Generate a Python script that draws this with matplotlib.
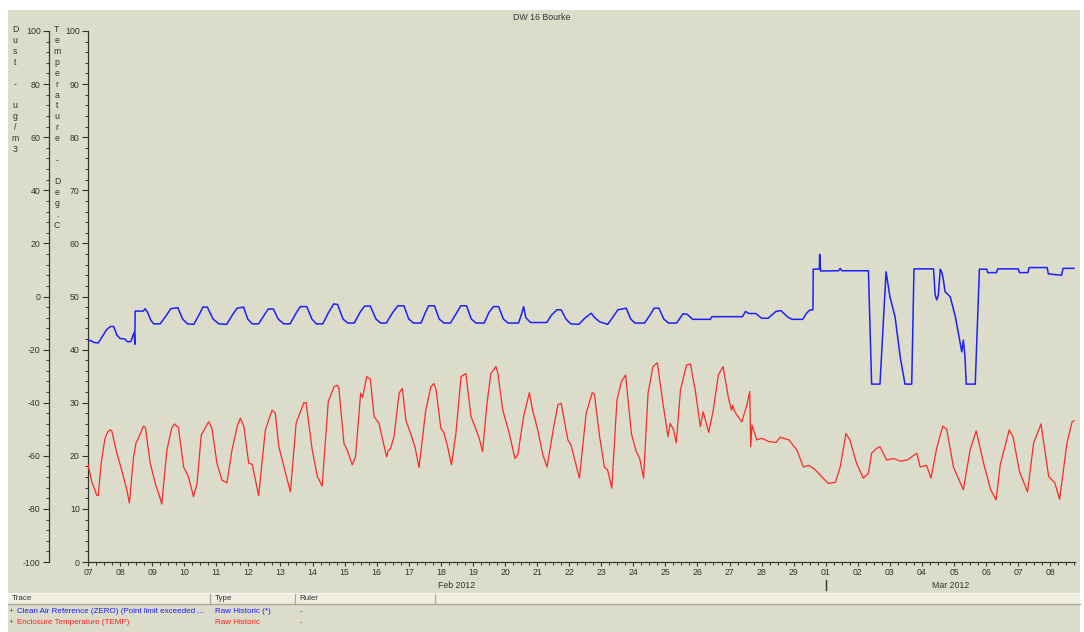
import matplotlib
matplotlib.use("Agg")
import matplotlib.pyplot as plt
import matplotlib.dates as mdates
import matplotlib.transforms as mtransforms
from matplotlib.patches import Rectangle
from matplotlib.lines import Line2D
from matplotlib.ticker import MultipleLocator
from datetime import datetime, timedelta

plt.rcParams["font.family"] = ["Liberation Sans", "DejaVu Sans"]
plt.rcParams["axes.unicode_minus"] = False

# ---------------- data ----------------
start = datetime(2012, 2, 7)

# Enclosure Temperature (TEMP), deg C, time in days since start
temp_days = [
    0.00, 0.12, 0.22, 0.27, 0.32, 0.41, 0.53, 0.62, 0.69, 0.74, 0.90, 1.05, 1.21, 1.29,
    1.42, 1.50, 1.57, 1.73, 1.79, 1.94, 2.11, 2.20, 2.30, 2.46, 2.61, 2.70, 2.82, 2.98,
    3.13, 3.29, 3.40, 3.53, 3.76, 3.86, 4.02, 4.18, 4.33, 4.49, 4.65, 4.75, 4.86, 5.01,
    5.12, 5.32, 5.53, 5.74, 5.84, 5.95, 6.16, 6.31, 6.49, 6.73, 6.80, 6.99, 7.15, 7.30,
    7.49, 7.67, 7.77, 7.82, 7.98, 8.08, 8.24, 8.34, 8.50, 8.56, 8.69, 8.80, 8.92, 9.07,
    9.31, 9.36, 9.43, 9.54, 9.70, 9.80, 9.91, 10.07, 10.20, 10.32, 10.53, 10.69, 10.78,
    10.85, 11.00, 11.10, 11.20, 11.33, 11.47, 11.63, 11.78, 11.94, 12.05, 12.20, 12.30,
    12.44, 12.56, 12.72, 12.78, 12.93, 13.13, 13.31, 13.40, 13.58, 13.76, 13.86, 14.02,
    14.18, 14.31, 14.52, 14.65, 14.75, 14.96, 15.06, 15.32, 15.53, 15.72, 15.79, 15.95,
    16.10, 16.20, 16.33, 16.49, 16.63, 16.76, 16.94, 17.09, 17.20, 17.32, 17.46, 17.61,
    17.75, 17.91, 18.08, 18.15, 18.25, 18.34, 18.47, 18.66, 18.78, 18.93, 19.09, 19.18,
    19.35, 19.49, 19.65, 19.80, 19.96, 20.06, 20.10, 20.16, 20.38, 20.53, 20.63, 20.66,
    20.70, 20.85, 21.00, 21.22, 21.45, 21.58, 21.85, 22.10, 22.30, 22.47, 22.65, 22.85,
    23.08, 23.30, 23.45, 23.63, 23.75, 23.96, 24.17, 24.33, 24.43, 24.59, 24.69, 24.90,
    25.11, 25.32, 25.54, 25.84, 25.94, 26.14, 26.28, 26.46, 26.65, 26.77, 26.98, 27.29,
    27.50, 27.69, 27.92, 28.14, 28.31, 28.44, 28.72, 28.84, 29.04, 29.29, 29.48, 29.71,
    29.95, 30.14, 30.29, 30.52, 30.68, 30.74,
]
temp_vals = [
    18.3, 15.1, 13.5, 12.6, 12.5, 18.6, 23.3, 24.5, 24.9, 24.7, 20.5, 17.3, 13.6, 11.1,
    19.8, 22.5, 23.3, 25.6, 25.3, 18.6, 14.5, 13.0, 10.9, 21.1, 25.2, 26.0, 25.3, 17.9,
    16.1, 12.3, 14.8, 23.9, 26.4, 25.3, 18.6, 15.4, 14.9, 21.1, 25.5, 27.1, 25.5, 18.6,
    18.4, 12.5, 24.9, 28.6, 28.0, 21.7, 16.7, 13.2, 26.2, 30.0, 30.0, 21.1, 16.1, 14.3,
    30.2, 33.0, 33.3, 32.8, 22.3, 21.1, 18.3, 19.8, 31.8, 31.0, 34.9, 34.5, 27.4, 26.1,
    19.8, 21.0, 21.3, 23.6, 31.8, 32.7, 26.7, 24.0, 21.5, 17.8, 28.6, 33.0, 33.6,
    32.5, 25.2, 24.3, 22.0, 18.3, 24.2, 34.9, 35.5, 27.4, 25.7, 23.2, 20.8,
    29.9, 35.5, 36.8, 35.5, 28.6, 24.3, 19.5, 20.2, 27.4, 31.9, 28.6, 24.9,
    20.2, 17.9, 25.5, 29.6, 29.9, 23.0, 22.0, 15.8, 28.0, 31.9, 31.5, 23.6,
    17.9, 17.3, 13.9, 30.5, 34.0, 35.2, 24.2, 20.8, 19.5, 15.8, 31.8, 36.8,
    37.5, 30.5, 23.6, 26.1, 25.0, 22.4, 32.4, 37.1, 37.3, 32.4, 25.5, 28.3,
    24.4, 28.5, 35.2, 36.8, 31.1, 28.6, 29.5, 28.3, 26.4, 29.3, 32.1, 21.7,
    25.8, 23.0, 23.3, 22.7, 22.5, 23.5, 23.0, 21.1, 17.9, 18.2, 17.5, 16.2,
    14.8, 15.0, 17.9, 24.2, 23.0, 18.6, 15.8, 16.7, 20.5, 21.4, 21.7, 19.2,
    19.5, 19.0, 19.2, 20.5, 17.9, 18.2, 15.8, 21.5, 25.6, 25.0, 17.9, 13.6,
    21.1, 24.7, 18.6, 13.6, 11.7, 18.3, 24.9, 23.5, 17.0, 13.2, 22.4, 26.0,
    16.1, 14.9, 11.8, 22.4, 26.4, 26.6,
]

# Clean Air Reference (ZERO), ug/m3, time in days since start
dust_days = [
    0.00, 0.12, 0.18, 0.32, 0.45, 0.58, 0.70, 0.80, 0.90, 1.00, 1.15, 1.22, 1.33, 1.44,
    1.46, 1.47, 1.72, 1.78, 1.86, 1.96, 2.05, 2.25, 2.45, 2.58, 2.80, 2.95, 3.10, 3.30,
    3.48, 3.58, 3.72, 3.90, 4.08, 4.32, 4.50, 4.65, 4.85, 4.98, 5.12, 5.32, 5.52, 5.62,
    5.78, 5.93, 6.10, 6.30, 6.50, 6.62, 6.82, 6.98, 7.12, 7.32, 7.50, 7.66, 7.78, 7.95,
    8.10, 8.30, 8.48, 8.62, 8.80, 8.98, 9.12, 9.30, 9.50, 9.66, 9.85, 10.00, 10.15, 10.38,
    10.52, 10.62, 10.80, 10.95, 11.10, 11.30, 11.50, 11.62, 11.80, 11.95, 12.10, 12.35,
    12.50, 12.64, 12.80, 12.95, 13.10, 13.42, 13.52, 13.58, 13.65, 13.80, 14.30, 14.45,
    14.62, 14.75, 14.90, 15.05, 15.30, 15.50, 15.69, 15.80, 15.95, 16.20, 16.35, 16.52,
    16.78, 16.92, 17.05, 17.35, 17.52, 17.65, 17.80, 17.95, 18.10, 18.35, 18.55, 18.68,
    18.85, 19.40, 19.45, 20.40, 20.50, 20.60, 20.82, 21.00, 21.20, 21.45, 21.60, 21.82,
    21.95, 22.28, 22.40, 22.50, 22.60, 22.61, 22.80, 22.81, 22.84, 23.40, 23.45, 23.50,
    24.33, 24.43, 24.69, 24.88, 25.00, 25.16, 25.32, 25.47, 25.68, 25.75, 26.36, 26.41,
    26.46, 26.51, 26.57, 26.62, 26.66, 26.72, 26.88, 27.04, 27.19, 27.24, 27.29, 27.34,
    27.38, 27.66, 27.79, 28.02, 28.05, 28.32, 28.36, 29.00, 29.04, 29.30, 29.34, 29.90,
    29.94, 30.35, 30.40, 30.74,
]
dust_vals = [
    -16.4, -16.8, -17.3, -17.5, -15.0, -12.5, -11.3, -11.3, -14.5, -15.8, -16.0, -17.0, -17.0, -13.5,
    -18.0, -5.5, -5.5, -4.6, -6.0, -9.0, -10.3, -10.3, -7.0, -4.6, -4.2, -8.5, -10.3, -10.5,
    -6.5, -4.0, -4.0, -8.5, -10.3, -10.5, -7.0, -4.4, -4.0, -8.5, -10.3, -10.3, -6.5, -4.7,
    -4.7, -8.5, -10.3, -10.3, -6.0, -3.8, -3.8, -8.5, -10.3, -10.3, -6.0, -2.8, -3.0, -8.5,
    -10.0, -10.0, -6.0, -3.6, -3.6, -8.5, -10.0, -10.0, -6.0, -3.5, -3.5, -8.5, -10.0, -10.0,
    -6.0, -3.5, -3.5, -8.5, -10.0, -10.0, -6.0, -3.5, -3.5, -8.5, -10.0, -10.0,
    -6.0, -3.8, -3.8, -8.5, -10.0, -10.0, -6.5, -3.8, -8.0, -9.8, -9.8, -7.0,
    -5.0, -5.0, -8.5, -10.3, -10.5, -8.0, -6.3, -8.0, -9.5, -10.5, -8.0, -5.0,
    -4.4, -8.5, -10.0, -10.0, -7.0, -4.4, -4.4, -8.5, -10.0, -10.0, -6.5, -6.7,
    -8.6, -8.6, -7.6, -7.6, -5.6, -6.4, -6.4, -8.2, -8.2, -5.6, -5.3, -7.8,
    -8.6, -8.6, -6.3, -5.1, -5.0, 10.3, 10.3, 15.9, 9.6, 9.7, 10.6, 9.7,
    9.7, -33.0, -33.0, 9.3, -0.1, -7.6, -22.7, -33.0, -33.0, 10.4, 10.4, 0.6,
    -1.3, 0.6, 10.3, 9.0, 6.8, 1.8, -0.1, -7.6, -17.6, -20.8, -16.4, -22.7,
    -33.0, -33.0, 10.3, 10.3, 9.0, 9.0, 10.4, 10.4, 9.0, 9.0, 10.9, 10.9,
    8.5, 8.0, 10.6, 10.6,
]

# x-axis range (days since start)
x_end_days = 30.77

title = "DW 16 Bourke"
dust_label = "Dust - ug/m3"
temp_label = "Temperature - Deg.C"
trace_rows = [
    ("Clean Air Reference (ZERO) (Point limit exceeded ...", "Raw Historic (*)", "-", "#1a1aff"),
    ("Enclosure Temperature (TEMP)", "Raw Historic", "-", "#ff2020"),
]
header_cols = ["Trace", "Type", "Ruler"]

# ---------------- figure ----------------
W, H = 1084, 632
BG = "#DCDCCB"
INK = "#333333"
FS = 6.3
FS_TAB = 5.8

fig = plt.figure(figsize=(W / 100, H / 100), dpi=100)
fig.patch.set_facecolor("white")


def fx(px):
    return px / W


def fy(py):
    return 1 - py / H


fig.add_artist(Rectangle((fx(8), 0), fx(1080) - fx(8), fy(10), transform=fig.transFigure,
                         facecolor=BG, edgecolor="none", zorder=0))

ax = fig.add_axes([fx(88), fy(562), fx(1075) - fx(88), fy(31) - fy(562)])
ax.set_facecolor("none")
ax2 = ax.twinx()
ax2.set_facecolor("none")

t_dates = [start + timedelta(days=d) for d in temp_days]
d_dates = [start + timedelta(days=d) for d in dust_days]

ax.plot(t_dates, temp_vals, color="#ff2828", lw=0.9, zorder=3)
ax2.plot(d_dates, dust_vals, color="#1e1eff", lw=1.1, zorder=3)

ax.set_xlim(start, start + timedelta(days=x_end_days))
ax.set_ylim(0, 100)
ax2.set_ylim(-100, 100)

for a in (ax, ax2):
    for s in ("top", "right"):
        a.spines[s].set_visible(False)
ax2.spines["bottom"].set_visible(False)
ax2.spines["left"].set_visible(True)
ax2.yaxis.set_ticks_position("left")
ax2.yaxis.set_label_position("left")
ax2.spines["left"].set_position(("axes", (49 - 88) / (1075 - 88)))

for a in (ax, ax2):
    for s in ("left", "bottom"):
        a.spines[s].set_color(INK)
        a.spines[s].set_linewidth(0.9)

ax.yaxis.set_major_locator(MultipleLocator(10))
ax.yaxis.set_minor_locator(MultipleLocator(2))
ax2.yaxis.set_major_locator(MultipleLocator(20))
ax2.yaxis.set_minor_locator(MultipleLocator(4))

ax.xaxis.set_major_locator(mdates.DayLocator())
ax.xaxis.set_major_formatter(mdates.DateFormatter("%d"))
ax.xaxis.set_minor_locator(mdates.HourLocator(byhour=[6, 12, 18]))

for a in (ax, ax2):
    a.tick_params(which="major", direction="out", length=4, width=0.8, color=INK,
                  labelsize=FS, labelcolor=INK, pad=2)
    a.tick_params(which="minor", direction="out", length=2, width=0.7, color=INK)
ax.tick_params(axis="x", which="major", length=3, pad=1)

# month captions under the day labels
trans = mtransforms.blended_transform_factory(ax.transData, ax.transAxes)
yoff = -(585 - 562) / (562 - 31)
ax.text(start + timedelta(days=11.5), yoff, "Feb 2012", transform=trans,
        ha="center", va="center", fontsize=FS, color=INK)
ax.text(start + timedelta(days=26.9), yoff, "Mar 2012", transform=trans,
        ha="center", va="center", fontsize=FS, color=INK)
mar1 = mdates.date2num(datetime(2012, 3, 1))
ax.add_line(Line2D([mar1, mar1], [-(580 - 562) / 531, -(590 - 562) / 531], transform=trans,
                   color=INK, lw=1.0, clip_on=False))

# title
fig.text(fx(542), fy(18), title, ha="center", va="center", fontsize=FS, color=INK)

# stacked axis captions
for i, ch in enumerate(dust_label):
    fig.text(fx(15), fy(30 + 10.85 * i), ch, ha="center", va="center", fontsize=FS, color=INK)
for i, ch in enumerate(temp_label):
    fig.text(fx(57), fy(30 + 10.85 * i), ch, ha="center", va="center", fontsize=FS, color=INK)

# trace table
fig.add_artist(Rectangle((fx(8), fy(604)), fx(1080) - fx(8), fy(593) - fy(604),
                         transform=fig.transFigure, facecolor="#EEEDE0",
                         edgecolor="none", zorder=1))
fig.add_artist(Line2D([fx(8), fx(1080)], [fy(604), fy(604)], transform=fig.transFigure,
                      color="#A9A898", lw=1.0))
fig.add_artist(Line2D([fx(8), fx(1080)], [fy(592.5), fy(592.5)], transform=fig.transFigure,
                      color="#F8F8F0", lw=0.8))
for xs in (210, 295, 435):
    fig.add_artist(Line2D([fx(xs), fx(xs)], [fy(594), fy(603)], transform=fig.transFigure,
                          color="#A9A898", lw=0.9))
for label, xs in zip(header_cols, (12, 215, 299)):
    fig.text(fx(xs), fy(599), label, ha="left", va="center", fontsize=FS_TAB, color=INK)

for r, (name, kind, ruler, col) in enumerate(trace_rows):
    yy = 611.5 + 11 * r
    fig.text(fx(9), fy(yy), "+", ha="left", va="center", fontsize=FS_TAB, color="#208020")
    fig.text(fx(17), fy(yy), name, ha="left", va="center", fontsize=FS_TAB, color=col)
    fig.text(fx(215), fy(yy), kind, ha="left", va="center", fontsize=FS_TAB, color=col)
    fig.text(fx(300), fy(yy), ruler, ha="left", va="center", fontsize=FS_TAB, color=col)

fig.savefig("out.png", dpi=100, facecolor=fig.get_facecolor())
